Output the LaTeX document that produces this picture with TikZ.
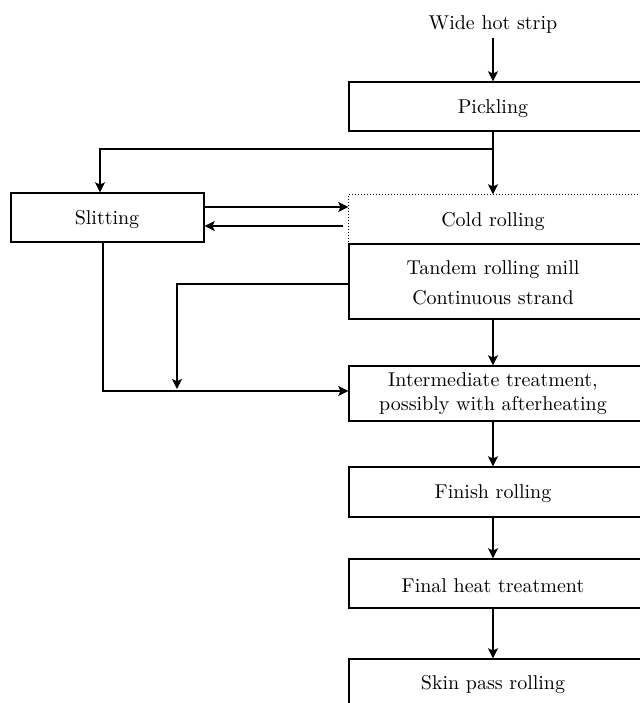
\documentclass[tikz,border=0pt]{standalone}
\usetikzlibrary{arrows.meta}
\begin{document}
\begin{tikzpicture}[x=0.5pt,y=-0.5pt,
  line width=0.7pt,
  stage/.style={draw,line width=0.7pt,minimum width=148pt,inner sep=0pt},
  label/.style={font=\fontsize{10}{12}\selectfont,align=center,inner sep=2pt},
  arr/.style={-{Stealth[length=5pt,width=5pt,inset=1.1pt]}}]
\useasboundingbox (0,0) rectangle (640,703);

% process boxes (their right side runs past the page edge)
\node[stage,minimum height=24.5pt] (pick) at (497,106.5) {};
\node[stage,draw=none,minimum height=24.5pt] (cold) at (497,219.5) {};
\draw[densely dotted,line width=0.5pt] (cold.south west) -- (cold.north west) -- (cold.north east);
\node[stage,minimum height=37.5pt] (tand) at (497,281.5) {};
\node[stage,minimum height=27.5pt] (inter) at (497,393.5) {};
\node[stage,minimum height=25pt] (fin) at (497,492) {};
\node[stage,minimum height=24.5pt] (heat) at (497,583.5) {};
\node[stage,minimum height=24.5pt] (skin) at (497,683.5) {};
\node[draw,line width=0.7pt,minimum width=96.5pt,minimum height=24.5pt] (slit) at (107.5,217.5) {};

% texts
\node[label] (wide) at (493,24) {Wide hot strip};
\node[label] (pickt) at (493,109) {Pickling};
\node[label] (coldt) at (493,222) {Cold rolling};
\node[label] (tandt) at (493,283) {Tandem rolling mill\\[3pt]Continuous strand};
\node[label] (intert) at (493,394) {Intermediate treatment,\\possibly with afterheating};
\node[label] (fint) at (493,494) {Finish rolling};
\node[label] (heatt) at (493,586) {Final heat treatment};
\node[label] (skint) at (493,685) {Skin pass rolling};
\node[label] (slitt) at (107,220) {Slitting};

% main line
\draw[arr] (493,38) -- (pickt |- pick.north);
\draw[arr] (pickt |- pick.south) -- (pickt |- cold.north);
\draw[arr] (pickt |- tand.south) -- (pickt |- inter.north);
\draw[arr] (pickt |- inter.south) -- (pickt |- fin.north);
\draw[arr] (pickt |- fin.south) -- (pickt |- heat.north);
\draw[arr] (pickt |- heat.south) -- (pickt |- skin.north);

% branch to slitting and back
\coordinate (split) at (493,149);
\draw[arr] (split) -| (100,0 |- slit.north);
\draw[arr] (slit.east |- 0,207) -- (cold.west |- 0,207);
\coordinate (ret) at (343,226);
\draw[arr] (ret) -- (slit.east |- ret);

% bypass lines to intermediate treatment
\coordinate (drop) at (177,389);
\draw[arr] (tand.west |- 0,284) -| (drop);
\draw[arr] (103,0 |- slit.south) |- (inter.west |- 0,391);
\end{tikzpicture}
\end{document}
